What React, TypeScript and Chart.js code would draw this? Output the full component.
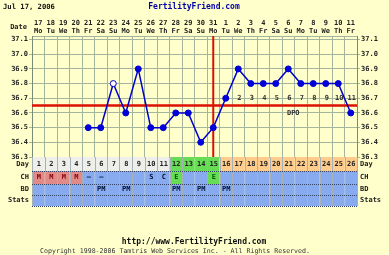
import React, { useEffect, useRef } from "react";
import { Chart, registerables } from "chart.js";

Chart.register(...registerables);

// ---------- data ----------
const cycleDays = [1, 2, 3, 4, 5, 6, 7, 8, 9, 10, 11, 12, 13, 14, 15, 16, 17, 18, 19, 20, 21, 22, 23, 24, 25, 26];
const dateLabels = ["17", "18", "19", "20", "21", "22", "23", "24", "25", "26", "27", "28", "29", "30", "31", "1", "2", "3", "4", "5", "6", "7", "8", "9", "10", "11"];
const weekdayLabels = ["Mo", "Tu", "We", "Th", "Fr", "Sa", "Su", "Mo", "Tu", "We", "Th", "Fr", "Sa", "Su", "Mo", "Tu", "We", "Th", "Fr", "Sa", "Su", "Mo", "Tu", "We", "Th", "Fr"];
const temperatures = [null, null, null, null, 36.5, 36.5, 36.8, 36.6, 36.9, 36.5, 36.5, 36.6, 36.6, 36.4, 36.5, 36.7, 36.9, 36.8, 36.8, 36.8, 36.9, 36.8, 36.8, 36.8, 36.8, 36.6];
const openPointDays = [7];
const coverline = 36.65;
const ovulationDay = 15;
const yTickValues = [36.3, 36.4, 36.5, 36.6, 36.7, 36.8, 36.9, 37.0, 37.1];
const dpoLabels = ["", "", "", "", "", "", "", "", "", "", "", "", "", "", "", "1", "2", "3", "4", "5", "6", "7", "8", "9", "10", "11"];
// phase per day: n = menstrual/follicular, f = fertile, l = luteal
const dayPhase = ["n", "n", "n", "n", "n", "n", "n", "n", "n", "n", "n", "f", "f", "f", "f", "l", "l", "l", "l", "l", "l", "l", "l", "l", "l", "l"];
const cervicalFluid = ["M", "M", "M", "M", "-", "-", "", "", "", "S", "C", "E", "", "", "E", "", "", "", "", "", "", "", "", "", "", ""];
const intercourse = ["", "", "", "", "", "PM", "", "PM", "", "", "", "PM", "", "PM", "", "PM", "", "", "", "", "", "", "", "", "", ""];
const rowNames = ["Day", "CH", "BD", "Stats"];
const titleDate = "Jul 17, 2006";
const siteName = "FertilityFriend.com";
const siteUrl = "http://www.FertilityFriend.com";
const copyright = "Copyright 1998-2006 Tamtris Web Services Inc. - All Rights Reserved.";

// ---------- styles ----------
const BG = "#FFFFCC";
const GRID = "#a3b59c";
const MONO = "'DejaVu Sans Mono', monospace";
const TXT = "#222222";
const phaseColors: Record<string, string> = { n: "#EEEEEA", f: "#66DD55", l: "#FFCC8C" };
const ROW_BLUE = "#88AAEE";

const rowsPlugin = {
  id: "ffRows",
  beforeDatasetsDraw(chart: any) {
    const { ctx, chartArea, scales } = chart;
    const x = scales.x;
    const y = scales.y;
    ctx.save();
    ctx.strokeStyle = "#DD1100";
    ctx.lineWidth = 2.5;
    const cy = y.getPixelForValue(coverline);
    ctx.beginPath();
    ctx.moveTo(chartArea.left, cy);
    ctx.lineTo(chartArea.right, cy);
    ctx.stroke();
    const ox = x.getPixelForValue(ovulationDay - 1);
    ctx.lineWidth = 2;
    ctx.beginPath();
    ctx.moveTo(ox, chartArea.top);
    ctx.lineTo(ox, chartArea.bottom);
    ctx.stroke();
    // DPO labels
    ctx.fillStyle = "#333333";
    ctx.font = `bold 7px ${MONO}`;
    ctx.textAlign = "center";
    ctx.textBaseline = "middle";
    const dy = y.getPixelForValue(36.7);
    dpoLabels.forEach((t, i) => {
      if (t) ctx.fillText(t, x.getPixelForValue(i) + 1, dy);
    });
    const lutealIdx = dayPhase.map((p, i) => (p === "l" ? i : -1)).filter((i) => i >= 0);
    const mid = (x.getPixelForValue(lutealIdx[0]) + x.getPixelForValue(lutealIdx[lutealIdx.length - 1])) / 2;
    ctx.fillText("DPO", mid + 5, y.getPixelForValue(36.6));
    ctx.restore();
  },
  afterDraw(chart: any) {
    const { ctx, chartArea, scales } = chart;
    const x = scales.x;
    const colW = x.getPixelForValue(1) - x.getPixelForValue(0);
    const left = chartArea.left;
    const right = chartArea.right;
    const rowTops = [chartArea.bottom, chartArea.bottom + 14, chartArea.bottom + 27, chartArea.bottom + 38];
    const rowHeights = [14, 13, 11, 11];
    ctx.save();
    ctx.font = `bold 7px ${MONO}`;
    ctx.textBaseline = "middle";
    // backgrounds
    cycleDays.forEach((d, i) => {
      const cx = x.getPixelForValue(i);
      const l = cx - colW / 2;
      ctx.fillStyle = phaseColors[dayPhase[i]];
      ctx.fillRect(l, rowTops[0], colW, rowHeights[0]);
      const cf = cervicalFluid[i];
      ctx.fillStyle = cf === "M" ? "#E08A8A" : cf === "E" ? "#66DD55" : ROW_BLUE;
      ctx.fillRect(l, rowTops[1], colW, rowHeights[1]);
      ctx.fillStyle = ROW_BLUE;
      ctx.fillRect(l, rowTops[2], colW, rowHeights[2]);
      ctx.fillRect(l, rowTops[3], colW, rowHeights[3]);
    });
    // vertical separators
    ctx.strokeStyle = "#A8B0B8";
    ctx.lineWidth = 1;
    for (let i = 0; i <= cycleDays.length; i++) {
      const vx = Math.round(x.getPixelForValue(i) - colW / 2) + 0.5;
      ctx.beginPath();
      ctx.moveTo(vx, rowTops[0]);
      ctx.lineTo(vx, rowTops[3] + rowHeights[3]);
      ctx.stroke();
    }
    // horizontal separators (dotted)
    ctx.strokeStyle = "#334466";
    ctx.setLineDash([1, 1]);
    [rowTops[1], rowTops[2], rowTops[3], rowTops[3] + rowHeights[3]].forEach((ry) => {
      ctx.beginPath();
      ctx.moveTo(left, Math.round(ry) + 0.5);
      ctx.lineTo(right, Math.round(ry) + 0.5);
      ctx.stroke();
    });
    ctx.setLineDash([]);
    // texts in rows
    ctx.textAlign = "center";
    cycleDays.forEach((d, i) => {
      const cx = x.getPixelForValue(i) + 0.5;
      ctx.fillStyle = TXT;
      ctx.fillText(String(d), cx, rowTops[0] + rowHeights[0] / 2);
      const cf = cervicalFluid[i];
      if (cf) {
        ctx.fillStyle = cf === "M" ? "#880000" : cf === "E" ? "#005500" : "#001133";
        ctx.fillText(cf === "-" ? "–" : cf, cx, rowTops[1] + rowHeights[1] / 2);
      }
      if (intercourse[i]) {
        ctx.fillStyle = "#001133";
        ctx.fillText(intercourse[i], cx, rowTops[2] + rowHeights[2] / 2);
      }
    });
    // row names
    ctx.fillStyle = TXT;
    rowNames.forEach((n, r) => {
      const ry = rowTops[r] + rowHeights[r] / 2;
      ctx.textAlign = "right";
      ctx.fillText(n, left - 3, ry);
      ctx.textAlign = "left";
      ctx.fillText(n, right + 3, ry);
    });
    // Date header label
    ctx.textAlign = "right";
    ctx.fillText("Date", left - 5, chartArea.top - 9);
    // title
    ctx.textAlign = "left";
    ctx.font = `bold 7.2px ${MONO}`;
    ctx.fillStyle = "#111111";
    ctx.fillText(titleDate, 3, 7);
    ctx.textAlign = "center";
    ctx.font = `bold 8px ${MONO}`;
    ctx.fillStyle = "#0000AA";
    ctx.fillText(siteName, 194, 7);
    // footer
    ctx.fillStyle = "#111111";
    ctx.font = `bold 8px ${MONO}`;
    ctx.fillText(siteUrl, 194, 242);
    ctx.font = `6.6px ${MONO}`;
    ctx.fillStyle = "#333333";
    ctx.fillText(copyright, 175, 251);
    ctx.restore();
  },
};

export default function App() {
  const canvasRef = useRef<HTMLCanvasElement | null>(null);

  useEffect(() => {
    if (!canvasRef.current) return;
    const font = { family: MONO, size: 7, weight: "bold" as const };
    const yAxisBase = {
      type: "linear" as const,
      min: 36.3,
      max: 37.124,
      afterBuildTicks: (s: any) => {
        s.ticks = yTickValues.map((v) => ({ value: v }));
      },
      afterFit: (s: any) => {
        s.width = 32;
      },
      ticks: {
        font,
        color: TXT,
        padding: 1,
        callback: (v: any) => Number(v).toFixed(1),
      },
      border: { color: "#7a8a78" },
    };
    const chart = new Chart(canvasRef.current, {
      type: "line",
      data: {
        labels: dateLabels,
        datasets: [
          {
            data: temperatures,
            borderColor: "#0000CC",
            borderWidth: 1.5,
            pointRadius: 3,
            pointBorderWidth: 1,
            pointBorderColor: "#0000CC",
            pointBackgroundColor: cycleDays.map((d) => (openPointDays.includes(d) ? "#FFFFFF" : "#0000DD")),
            tension: 0,
          },
        ],
      },
      options: {
        animation: false,
        responsive: false,
        devicePixelRatio: 1,
        layout: { padding: { top: 18, bottom: 98, left: 0, right: 0 } },
        plugins: { legend: { display: false }, tooltip: { enabled: false }, title: { display: false } },
        scales: {
          x: {
            type: "category",
            position: "top",
            offset: true,
            afterFit: (s: any) => {
              s.height = 18;
            },
            grid: { offset: true, color: GRID, drawTicks: false },
            border: { color: GRID },
            ticks: {
              autoSkip: false,
              maxRotation: 0,
              padding: 1,
              color: TXT,
              font: { ...font, lineHeight: 1.1 },
              callback: (_v: any, i: number) => [dateLabels[i], weekdayLabels[i]],
            },
          },
          y: {
            ...yAxisBase,
            position: "left",
            grid: { color: GRID, tickLength: 3 },
          },
          y2: {
            ...yAxisBase,
            position: "right",
            grid: { color: GRID, tickLength: 3, drawOnChartArea: false },
          },
        },
      },
      plugins: [rowsPlugin],
    } as any);
    return () => chart.destroy();
  }, []);

  return (
    <div style={{ position: "fixed", left: 0, top: 0, width: 389, height: 255, background: BG }}>
      <canvas ref={canvasRef} width={389} height={255} style={{ width: 389, height: 255, display: "block" }} />
    </div>
  );
}
